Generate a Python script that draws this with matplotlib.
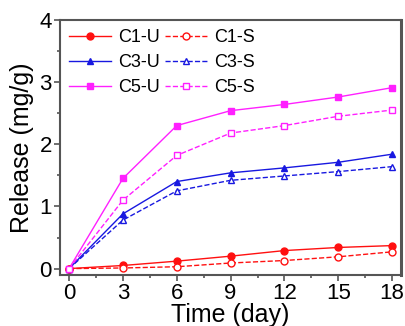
import numpy as np
import matplotlib
matplotlib.use("Agg")
import matplotlib.pyplot as plt
from matplotlib.ticker import MultipleLocator

plt.rcParams['font.family'] = ['Liberation Sans', 'DejaVu Sans']

# release data
days = [0, 3, 6, 9, 12, 15, 18]
c1_u = [0, 0.05, 0.12, 0.20, 0.29, 0.34, 0.37]
c1_s = [0, 0.01, 0.03, 0.09, 0.13, 0.19, 0.27]
c3_u = [0, 0.88, 1.40, 1.54, 1.62, 1.71, 1.84]
c3_s = [0, 0.78, 1.25, 1.42, 1.49, 1.56, 1.64]
c5_u = [0, 1.45, 2.30, 2.54, 2.64, 2.76, 2.91]
c5_s = [0, 1.10, 1.82, 2.18, 2.30, 2.45, 2.55]

red, blue, mag = '#ff1010', '#1818e0', '#ff20ff'

fig = plt.figure(figsize=(4.06, 3.26), dpi=100)
ax = fig.add_axes([0.148, 0.157, 0.84, 0.782])

ms = 5
lines = []
lines.append(ax.plot(days, c1_u, '-o', color=red, lw=1, ms=ms, label='C1-U')[0])
lines.append(ax.plot(days, c3_u, '-^', color=blue, lw=1, ms=ms, label='C3-U')[0])
lines.append(ax.plot(days, c5_u, '-s', color=mag, lw=1, ms=ms, label='C5-U')[0])
lines.append(ax.plot(days, c1_s, '--o', color=red, lw=1, ms=ms, mfc='white', label='C1-S')[0])
lines.append(ax.plot(days, c3_s, '--^', color=blue, lw=1, ms=ms, mfc='white', label='C3-S')[0])
lines.append(ax.plot(days, c5_s, '--s', color=mag, lw=1, ms=ms, mfc='white', label='C5-S')[0])

ax.set_xlim(-0.5, 18.5)
ax.set_ylim(-0.1, 4)
ax.xaxis.set_major_locator(MultipleLocator(3))
ax.xaxis.set_minor_locator(MultipleLocator(1.5))
ax.yaxis.set_major_locator(MultipleLocator(1))
ax.yaxis.set_minor_locator(MultipleLocator(0.5))
ax.tick_params(which='both', direction='out', colors='#555555', labelcolor='black',
               labelsize=16, width=1.2, top=False, right=False)
ax.tick_params(which='major', length=4, pad=2)
ax.tick_params(which='minor', length=2.5)
for s in ax.spines.values():
    s.set_color('#555555')
    s.set_linewidth(1.5)
ax.spines['right'].set_linewidth(2.2)

ax.set_xlabel('Time (day)', fontsize=18, labelpad=-1)
ax.set_ylabel('Release (mg/g)', fontsize=18, labelpad=4)

ax.legend(handles=lines, loc='upper left', ncol=2, frameon=False, fontsize=13,
          handlelength=2.3, handletextpad=0.4, columnspacing=0.3,
          labelspacing=0.45, borderaxespad=0.1)

fig.savefig('out.png', dpi=100)
